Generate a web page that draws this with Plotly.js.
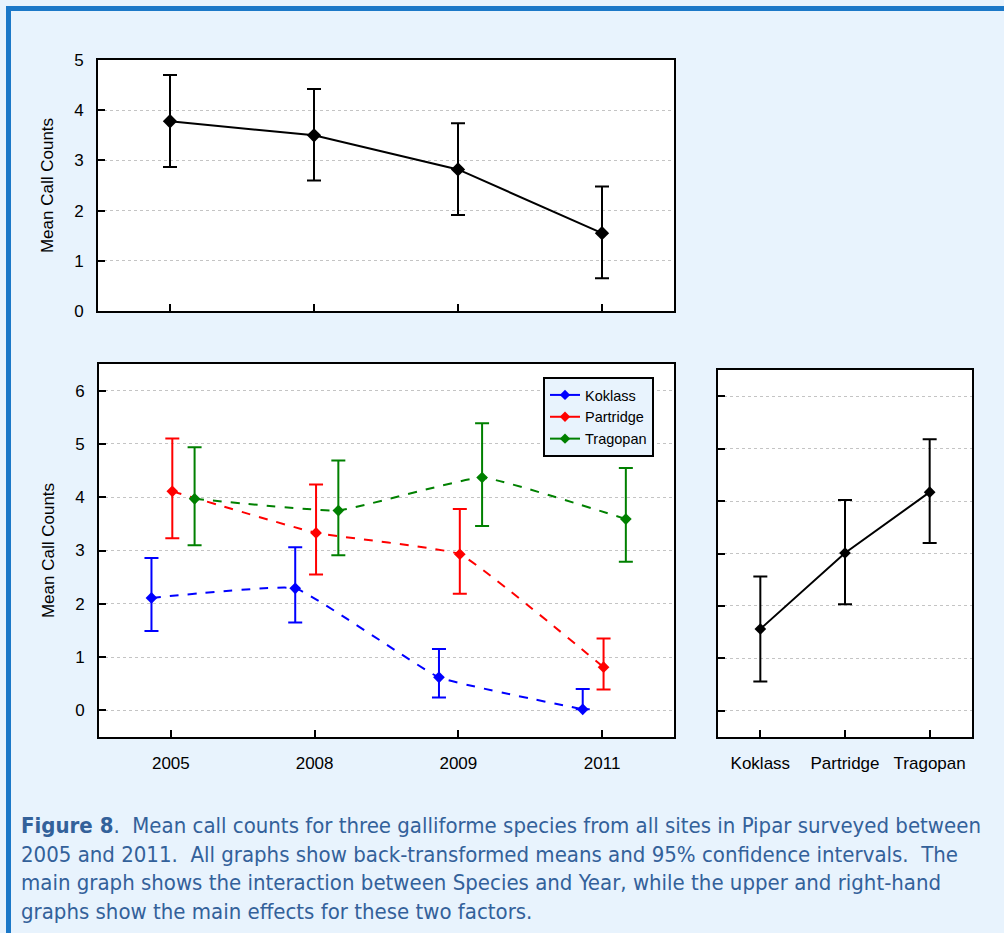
<!DOCTYPE html>
<html>
<head>
<meta charset="utf-8">
<script src="https://cdn.plot.ly/plotly-3.0.1.min.js"></script>
<style>
html,body{margin:0;padding:0;background:#e8f3fd;}
#chart{width:1004px;height:933px;}
</style>
</head>
<body>
<div id="chart"></div>
<script>
// ---- data ----
const years = ["2005", "2008", "2009", "2011"];
const species = ["Koklass", "Partridge", "Tragopan"];

// Upper graph: main effect of Year
const yearMean  = [3.78, 3.50, 2.82, 1.55];
const yearUpper = [4.70, 4.42, 3.74, 2.48];
const yearLower = [2.87, 2.60, 1.91, 0.65];

// Main graph: Species x Year interaction
const koklassMean  = [2.11, 2.29, 0.62, 0.02];
const koklassUpper = [2.86, 3.06, 1.15, 0.40];
const koklassLower = [1.49, 1.65, 0.24, 0.02];

const partridgeMean  = [4.11, 3.33, 2.93, 0.81];
const partridgeUpper = [5.10, 4.24, 3.78, 1.35];
const partridgeLower = [3.23, 2.55, 2.19, 0.39];

const tragopanMean  = [3.97, 3.75, 4.37, 3.59];
const tragopanUpper = [4.94, 4.69, 5.39, 4.55];
const tragopanLower = [3.10, 2.91, 3.46, 2.79];

// Right graph: main effect of Species
const speciesMean  = [1.56, 3.01, 4.17];
const speciesUpper = [2.56, 4.02, 5.18];
const speciesLower = [0.56, 2.03, 3.20];

const caption = "<b>Figure 8</b>.  Mean call counts for three galliforme species from all sites in Pipar surveyed between<br>" +
  "2005 and 2011.  All graphs show back-transformed means and 95% confidence intervals.  The<br>" +
  "main graph shows the interaction between Species and Year, while the upper and right-hand<br>" +
  "graphs show the main effects for these two factors.";

// ---- helpers ----
const W = 1004, H = 933;
const fx = p => p / W;
const fy = p => 1 - p / H;
const idx = arr => arr.map((_, i) => i);
const plus  = (hi, m) => hi.map((v, i) => v - m[i]);
const minus = (lo, m) => lo.map((v, i) => m[i] - v);

const dodge = {Koklass: -0.135, Partridge: 0.01, Tragopan: 0.165};
const colors = {Koklass: "#0000ff", Partridge: "#ff0000", Tragopan: "#008000"};

const traces = [];

// upper graph
traces.push({
  x: idx(years), y: yearMean, xaxis: "x", yaxis: "y",
  type: "scatter", mode: "lines+markers", showlegend: false,
  line: {color: "#000", width: 2},
  marker: {symbol: "diamond", size: 11, color: "#000"},
  error_y: {type: "data", symmetric: false, array: plus(yearUpper, yearMean),
            arrayminus: minus(yearLower, yearMean), color: "#000", thickness: 2, width: 7},
  hoverinfo: "skip"
});

const inter = {
  Koklass: [koklassMean, koklassUpper, koklassLower],
  Partridge: [partridgeMean, partridgeUpper, partridgeLower],
  Tragopan: [tragopanMean, tragopanUpper, tragopanLower]
};
species.forEach(s => {
  const [m, u, l] = inter[s];
  traces.push({
    x: idx(years).map(i => i + dodge[s]), y: m, xaxis: "x2", yaxis: "y2",
    type: "scatter", mode: "lines+markers", showlegend: false,
    line: {color: colors[s], width: 2, dash: "dash", shape: "spline", smoothing: 0.3},
    marker: {symbol: "diamond", size: 9, color: colors[s]},
    error_y: {type: "data", symmetric: false, array: plus(u, m), arrayminus: minus(l, m),
              color: colors[s], thickness: 2, width: 7},
    hoverinfo: "skip"
  });
});
// legend entries (solid symbol like the original)
species.forEach(s => {
  traces.push({
    x: [null], y: [null], xaxis: "x2", yaxis: "y2", name: s,
    type: "scatter", mode: "lines+markers", showlegend: true,
    line: {color: colors[s], width: 2},
    marker: {symbol: "diamond", size: 8, color: colors[s]}
  });
});

// right graph
traces.push({
  x: idx(species), y: speciesMean, xaxis: "x3", yaxis: "y3",
  type: "scatter", mode: "lines+markers", showlegend: false,
  line: {color: "#000", width: 2},
  marker: {symbol: "diamond", size: 9, color: "#000"},
  error_y: {type: "data", symmetric: false, array: plus(speciesUpper, speciesMean),
            arrayminus: minus(speciesLower, speciesMean), color: "#000", thickness: 2, width: 7},
  hoverinfo: "skip"
});

const FAM = "Liberation Sans, Arial, sans-serif";
const tickFont = {family: FAM, size: 17, color: "#000"};
const titleFont = {family: FAM, size: 17, color: "#000"};
const baseAxis = {
  showline: true, mirror: true, linecolor: "#000", linewidth: 2,
  ticks: "inside", ticklen: 7, tickwidth: 2, tickcolor: "#000",
  zeroline: false, tickfont: tickFont, fixedrange: true
};
const gridY = {showgrid: true, gridcolor: "#c4c4c4", griddash: "dot", gridwidth: 1};

const layout = {
  width: W, height: H,
  margin: {l: 0, r: 0, t: 0, b: 0},
  paper_bgcolor: "#e8f3fd", plot_bgcolor: "#ffffff",
  showlegend: true,
  font: {family: FAM, color: "#000"},
  xaxis: Object.assign({}, baseAxis, {
    domain: [fx(98), fx(674)], anchor: "y", range: [-0.5, 3.5],
    tickvals: idx(years), ticktext: years, showticklabels: false, showgrid: false
  }),
  yaxis: Object.assign({}, baseAxis, gridY, {
    domain: [fy(311), fy(60)], anchor: "x", range: [0, 5], dtick: 1,
    ticklabelstandoff: 9,
    title: {text: "Mean Call Counts", font: titleFont, standoff: 16}
  }),
  xaxis2: Object.assign({}, baseAxis, {
    domain: [fx(99), fx(674)], anchor: "y2", range: [-0.5, 3.5],
    tickvals: idx(years), ticktext: years, showgrid: false, ticklabelstandoff: 10
  }),
  yaxis2: Object.assign({}, baseAxis, gridY, {
    domain: [fy(737), fy(364)], anchor: "x2", range: [-0.5, 6.5],
    tickvals: [0, 1, 2, 3, 4, 5, 6], ticklabelstandoff: 9,
    title: {text: "Mean Call Counts", font: titleFont, standoff: 16}
  }),
  xaxis3: Object.assign({}, baseAxis, {
    domain: [fx(718), fx(972)], anchor: "y3", range: [-0.5, 2.5],
    tickvals: idx(species), ticktext: species, showgrid: false, ticklabelstandoff: 10
  }),
  yaxis3: Object.assign({}, baseAxis, gridY, {
    domain: [fy(737), fy(370)], anchor: "x3", range: [-0.5, 6.5],
    tickvals: [0, 1, 2, 3, 4, 5, 6], showticklabels: false
  }),
  legend: {
    x: fx(543), y: fy(377), xanchor: "left", yanchor: "top",
    bgcolor: "#e8f3fd", bordercolor: "#000", borderwidth: 2,
    font: {size: 14.5, family: FAM, color: "#000"},
    itemwidth: 30, tracegroupgap: 0
  },
  shapes: [
    {type: "line", xref: "paper", yref: "paper", x0: fx(8.5), x1: 1, y0: fy(8.5), y1: fy(8.5),
     line: {color: "#1b78c8", width: 5}},
    {type: "line", xref: "paper", yref: "paper", x0: fx(8.5), x1: fx(8.5), y0: fy(6), y1: 0,
     line: {color: "#1b78c8", width: 5}}
  ],
  annotations: [{
    xref: "paper", yref: "paper", x: fx(19), y: fy(811), xanchor: "left", yanchor: "top",
    align: "left", showarrow: false, text: caption,
    font: {family: "DejaVu Sans Condensed, DejaVu Sans, sans-serif", size: 22, color: "#33619a"}
  }]
};

Plotly.newPlot("chart", traces, layout, {displayModeBar: false, staticPlot: true});
</script>
</body>
</html>
